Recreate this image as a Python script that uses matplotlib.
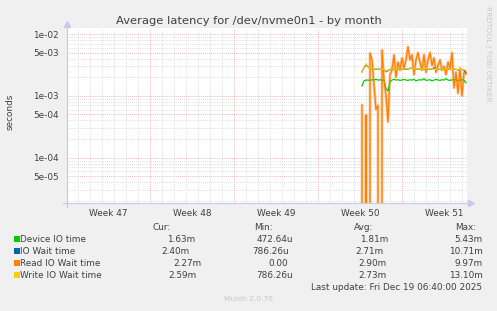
import numpy as np
import matplotlib
matplotlib.use("Agg")
import matplotlib.pyplot as plt
from matplotlib.patches import Rectangle
from matplotlib.transforms import blended_transform_factory

# samples every 4 hours, x in days from the left edge of the graph
t_start = 24.64
t_step = 1 / 6

device_ms = [1.45, 1.75, 1.8, 1.8, 1.78, 1.82, 1.8, 1.85, 1.8, 1.82,
             1.78, 1.8, 1.3, 1.2, 1.7, 1.8, 1.85, 1.8, 1.82, 1.78,
             1.8, 1.85, 1.8, 1.78, 1.82, 1.8, 1.85, 1.75, 1.8, 1.82,
             1.8, 1.9, 1.78, 1.8, 1.82, 1.75, 1.8, 1.85, 1.8, 1.78,
             1.82, 1.8, 1.9, 1.8, 1.78, 1.82, 1.8, 1.85, 1.75, 1.8,
             1.82, 1.78, 1.63]
iowait_ms = [2.45, 2.85, 3.2, 2.95, 2.78, 2.7, 2.72, 2.7, 2.75, 2.7,
             2.62, 2.68, 2.45, 2.55, 2.68, 2.72, 2.7, 2.7, 2.68, 2.72,
             2.7, 2.7, 2.72, 2.68, 2.78, 2.85, 2.72, 2.68, 2.7, 2.76,
             2.68, 2.72, 2.76, 2.68, 2.7, 2.72, 2.85, 2.66, 2.7, 2.68,
             2.68, 2.72, 2.68, 2.7, 2.68, 2.66, 2.68, 2.68, 2.62, 2.66,
             2.68, 2.6, 2.40]
read_ms = [0.71, 0, 0.49, 0, 4.9, 3.8, 1.5, 0.6, 0.7, 0,
           5.5, 1.8, 1.0, 0.38, 2.2, 2.6, 4.6, 2.0, 3.5, 2.6,
           4.1, 2.8, 3.8, 6.2, 3.8, 4.6, 2.2, 3.8, 5.0, 3.5,
           2.6, 4.6, 2.4, 3.8, 5.0, 3.1, 4.1, 2.4, 3.1, 3.8,
           2.6, 3.0, 2.2, 3.5, 2.8, 5.0, 1.35, 2.4, 1.1, 2.8,
           1.0, 2.4, 2.27]
write_ms = [2.4, 2.9, 3.3, 3.0, 2.8, 2.7, 2.75, 2.7, 2.8, 2.7,
            2.65, 2.7, 2.5, 2.6, 2.7, 2.75, 2.7, 2.72, 2.7, 2.75,
            2.7, 2.72, 2.75, 2.7, 2.8, 2.9, 2.75, 2.7, 2.72, 2.8,
            2.7, 2.75, 2.8, 2.7, 2.72, 2.75, 2.7, 2.68, 2.72, 2.7,
            2.7, 2.75, 2.7, 2.72, 2.7, 2.68, 2.7, 2.7, 2.65, 2.68,
            2.7, 2.65, 2.59]

names = ["Device IO time", "IO Wait time", "Read IO Wait time", "Write IO Wait time"]
colors = ["#00cc00", "#0066b3", "#ff8000", "#ffcc00"]
cur = ["1.63m", "2.40m", "2.27m", "2.59m"]
mins = ["472.64u", "786.26u", "0.00", "786.26u"]
avgs = ["1.81m", "2.71m", "2.90m", "2.73m"]
maxs = ["5.43m", "10.71m", "9.97m", "13.10m"]

week_starts = [7, 14, 21, 28]
week_labels = ["Week 47", "Week 48", "Week 49", "Week 50", "Week 51"]
y_major = [5e-5, 1e-4, 5e-4, 1e-3, 5e-3, 1e-2]
y_labels = ["5e-05", "1e-04", "5e-04", "1e-03", "5e-03", "1e-02"]

W, H = 497, 311
BG = "#f0f0f0"
TXT = "#404040"
plt.rcParams["font.family"] = "DejaVu Sans"

fig = plt.figure(figsize=(W / 100, H / 100), dpi=100, facecolor=BG)
# plot area in pixels: x 67..467, y 27.7..203.3
ax = fig.add_axes([67 / W, 1 - 203.3 / H, 400 / W, 175.6 / H])
ax.set_facecolor("white")
ax.set_yscale("log", nonpositive="clip")
ax.set_xlim(0.06, 33.39)
ax.set_ylim(1.83e-5, 0.01265)

for s in ax.spines.values():
    s.set_visible(False)

# grid
minor_y = [m * 10.0 ** e for e in range(-5, -1) for m in range(1, 10)]
for v in minor_y:
    if v in y_major or not (1.83e-5 < v < 0.01265):
        continue
    ax.axhline(v, color="#d4d4d4", lw=0.6, ls=(0, (1, 1.5)), zorder=1)
for v in y_major:
    ax.axhline(v, color="#f0a0a0", lw=0.6, ls=(0, (1, 1.5)), zorder=1)
for d in range(1, 34):
    if d in week_starts:
        continue
    ax.axvline(d, color="#d4d4d4", lw=0.6, ls=(0, (1, 1.5)), zorder=1)
for d in week_starts:
    ax.axvline(d, color="#f0a0a0", lw=0.6, ls=(0, (1, 1.5)), zorder=1)

ax.set_xticks([])
ax.set_yticks(y_major)
ax.set_yticklabels(y_labels)
ax.yaxis.set_minor_locator(matplotlib.ticker.NullLocator())
ax.tick_params(axis="y", length=0, pad=6, labelsize=6.4, labelcolor=TXT)

tr = blended_transform_factory(ax.transData, ax.transAxes)
for i, lab in enumerate(week_labels):
    ax.text(3.5 + 7 * i, -0.035, lab, transform=tr, ha="center", va="top",
            fontsize=6.4, color=TXT)

# data
t = t_start + t_step * np.arange(len(read_ms))
series = [device_ms, iowait_ms, read_ms, write_ms]
for vals, c in zip(series, colors):
    y = np.array(vals) / 1000.0
    if c == "#ff8000":
        ax.plot(t, y, color="#ffb070", lw=2.0, alpha=0.7, zorder=3)
    ax.plot(t, y, color=c, lw=0.9, zorder=4)

# axes with arrows
ax.plot([-0.25, 33.6], [1.83e-5, 1.83e-5], color="#c8c8ee", lw=0.8, clip_on=False, zorder=5)
ax.plot([0.06, 0.06], [1.6e-5, 0.0148], color="#c8c8ee", lw=0.8, clip_on=False, zorder=5)
ax.plot([33.75], [1.83e-5], marker=">", color="#c8c8ee", ms=4, clip_on=False, zorder=5)
ax.plot([0.06], [0.0145], marker="^", color="#c8c8ee", ms=4, clip_on=False, zorder=5)

# texts
fig.text(248.5 / W, 1 - 21 / H, "Average latency for /dev/nvme0n1 - by month",
         ha="center", va="center", fontsize=8.25, color=TXT)
fig.text(10 / W, 1 - 112 / H, "seconds", rotation=90, ha="center", va="center",
         fontsize=6.4, color=TXT)
fig.text(488 / W, 1 - 54 / H, "RRDTOOL / TOBI OETIKER", rotation=-90,
         ha="center", va="center", fontsize=5.4, color="#c8c8c8")

hdr_y = 227
fig.text(171 / W, 1 - hdr_y / H, "Cur:", ha="right", va="center", fontsize=6.4, color=TXT)
fig.text(273 / W, 1 - hdr_y / H, "Min:", ha="right", va="center", fontsize=6.4, color=TXT)
fig.text(373 / W, 1 - hdr_y / H, "Avg:", ha="right", va="center", fontsize=6.4, color=TXT)
fig.text(476 / W, 1 - hdr_y / H, "Max:", ha="right", va="center", fontsize=6.4, color=TXT)

cur_x = [195, 190, 202, 197]
min_x = [293, 289, 288, 293]
avg_x = [388, 384, 387, 387]
for i in range(4):
    y = 1 - (239 + 12 * i) / H
    fig.patches.append(Rectangle((14 / W, y - 3 / H), 6 / W, 6 / H,
                                 transform=fig.transFigure, facecolor=colors[i],
                                 edgecolor="none"))
    fig.text(20.5 / W, y, names[i], ha="left", va="center", fontsize=6.4, color=TXT)
    fig.text(cur_x[i] / W, y, cur[i], ha="right", va="center", fontsize=6.4, color=TXT)
    fig.text(min_x[i] / W, y, mins[i], ha="right", va="center", fontsize=6.4, color=TXT)
    fig.text(avg_x[i] / W, y, avgs[i], ha="right", va="center", fontsize=6.4, color=TXT)
    fig.text(483 / W, y, maxs[i], ha="right", va="center", fontsize=6.4, color=TXT)

fig.text(482 / W, 1 - 287 / H, "Last update: Fri Dec 19 06:40:00 2025",
         ha="right", va="center", fontsize=6.4, color=TXT)
fig.text(248.5 / W, 1 - 299 / H, "Munin 2.0.76", ha="center", va="center",
         fontsize=5.4, color="#c8c8c8")

fig.savefig("out.png", dpi=100, facecolor=BG)
